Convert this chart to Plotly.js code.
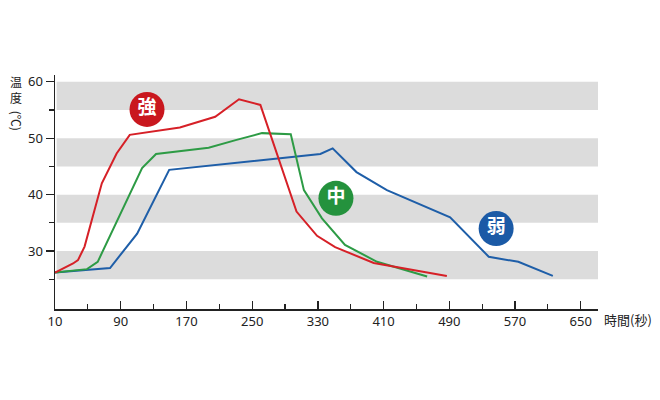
<!DOCTYPE html>
<html>
<head>
<meta charset="utf-8">
<script src="https://cdn.plot.ly/plotly-3.0.1.min.js"></script>
<style>html,body{margin:0;padding:0;background:#fff;}#chart{width:660px;height:400px;}</style>
</head>
<body>
<div id="chart"></div>
<script>
// Strong (強)
var strongTime = [10, 32, 38, 46, 67, 85, 101, 162, 205, 234, 260, 284, 304, 329, 351, 398, 446, 487];
var strongTemp = [26.2, 27.8, 28.4, 30.8, 42.0, 47.3, 50.6, 51.9, 53.8, 56.9, 55.9, 45.5, 37.0, 32.7, 30.7, 27.9, 26.6, 25.6];
// Medium (中)
var mediumTime = [10, 49, 62, 116, 133, 197, 231, 262, 297, 313, 335, 363, 402, 463];
var mediumTemp = [26.2, 26.8, 28.1, 44.7, 47.2, 48.3, 49.7, 50.9, 50.7, 40.8, 35.8, 31.1, 28.1, 25.5];
// Weak (弱)
var weakTime = [10, 77, 110, 149, 333, 348, 377, 414, 491, 538, 574, 616];
var weakTemp = [26.2, 27.0, 33.1, 44.4, 47.2, 48.2, 44.0, 40.8, 36.0, 29.0, 28.1, 25.6];
// Badge labels
var labelNames = ["強", "中", "弱"];
var labelTime = [122, 352, 547];
var labelTemp = [55.1, 39.35, 34.0];
// Axis ticks
var xTicks = [10, 90, 170, 250, 330, 410, 490, 570, 650];
var xMinor = [50, 130, 210, 290, 370, 450, 530, 610];
var yTicks = [30, 40, 50, 60];
var yMinor = [25, 35, 45, 55];
var bandRanges = [[25, 30], [35, 40], [45, 50], [55, 60]];

var lineColors = ["#d62027", "#2d9b45", "#1e5ea8"];
var badgeColors = ["#c9171e", "#24923d", "#1b5aa6"];

var traces = [
  {x: weakTime, y: weakTemp, mode: "lines", line: {color: lineColors[2], width: 2}},
  {x: mediumTime, y: mediumTemp, mode: "lines", line: {color: lineColors[1], width: 2}},
  {x: strongTime, y: strongTemp, mode: "lines", line: {color: lineColors[0], width: 2}},
  {x: labelTime, y: labelTemp, mode: "markers+text", text: labelNames,
   textposition: "middle center",
   textfont: {family: "Noto Sans CJK JP", size: 19, color: "#ffffff", weight: 700},
   marker: {size: 35, color: badgeColors, line: {width: 0}}}
];

var shapes = bandRanges.map(function (b) {
  return {type: "rect", xref: "paper", yref: "y", x0: 0.003, x1: 1, y0: b[0], y1: b[1],
          fillcolor: "#dcdcdc", line: {width: 0}, layer: "below"};
});

var tickFont = {family: "Noto Sans, sans-serif", size: 13, color: "#222"};
var titleFont = {family: "Noto Sans CJK JP", size: 12, color: "#222"};

var layout = {
  width: 660, height: 400,
  margin: {l: 55, r: 62, t: 75, b: 91},
  paper_bgcolor: "#fff", plot_bgcolor: "rgba(0,0,0,0)",
  showlegend: false,
  hovermode: false,
  xaxis: {
    range: [10, 671], showgrid: false, zeroline: false,
    showline: true, linecolor: "#222", linewidth: 1.5,
    tickmode: "array", tickvals: xTicks, ticktext: xTicks.map(String),
    ticks: "inside", ticklen: 8, tickwidth: 1.3, tickcolor: "#222",
    minor: {tickmode: "array", tickvals: xMinor, ticks: "inside", ticklen: 5, tickwidth: 1.2, tickcolor: "#222", showgrid: false},
    tickfont: tickFont, ticklabelstandoff: 0
  },
  yaxis: {
    range: [19.74, 61.2], showgrid: false, zeroline: false,
    showline: true, linecolor: "#222", linewidth: 1.5,
    tickmode: "array", tickvals: yTicks, ticktext: yTicks.map(String),
    ticks: "outside", ticklen: 8, tickwidth: 1.3, tickcolor: "#222",
    minor: {tickmode: "array", tickvals: yMinor, ticks: "outside", ticklen: 5, tickwidth: 1.2, tickcolor: "#222", showgrid: false},
    tickfont: tickFont
  },
  shapes: shapes,
  annotations: [
    {xref: "paper", yref: "paper", x: -0.072, y: 0.974, text: "温", showarrow: false,
     xanchor: "center", yanchor: "middle", font: titleFont, borderpad: 0},
    {xref: "paper", yref: "paper", x: -0.072, y: 0.904, text: "度", showarrow: false,
     xanchor: "center", yanchor: "middle", font: titleFont, borderpad: 0},
    {xref: "paper", yref: "paper", x: -0.072, y: 0.805, text: "(℃)", showarrow: false, textangle: 90,
     xanchor: "center", yanchor: "middle", font: titleFont, borderpad: 0},
    {xref: "paper", yref: "paper", x: 1.008, y: -0.045, text: "時間(秒)", showarrow: false,
     xanchor: "left", yanchor: "middle",
     font: {family: "Noto Sans CJK JP", size: 13, color: "#222"}}
  ]
};

Plotly.newPlot("chart", traces, layout, {staticPlot: true, displayModeBar: false});
</script>
</body>
</html>
